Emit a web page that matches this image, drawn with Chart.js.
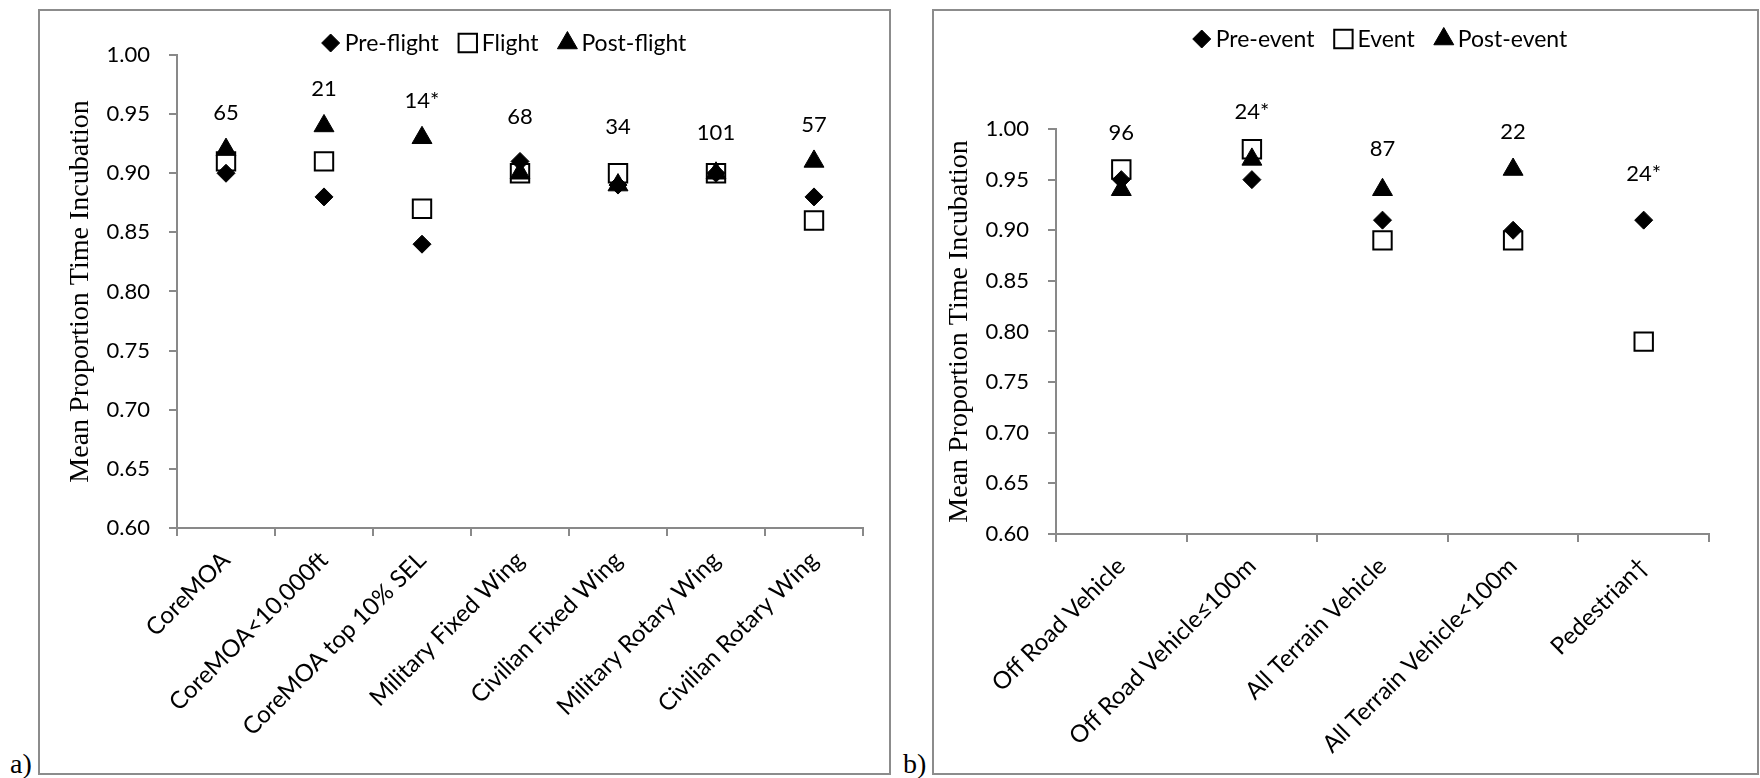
<!DOCTYPE html>
<html>
<head>
<meta charset="utf-8">
<script src="https://cdn.jsdelivr.net/npm/chart.js@4.4.0/dist/chart.umd.min.js"></script>
<style>
  body { margin: 0; background: #fff; width: 1760px; height: 778px; position: relative; overflow: hidden; }
  .frame { position: absolute; border: 2px solid #8c8c8c; box-sizing: border-box; }
  .wrap { position: absolute; }
  .tag { position: absolute; font-family: "Liberation Serif"; font-size: 28px; line-height: 1; }
</style>
</head>
<body>
<div class="frame" style="left:38px;top:9px;width:853px;height:766px"></div>
<div class="frame" style="left:932px;top:9px;width:827px;height:766px"></div>
<div class="wrap" style="left:40px;top:11px;width:849px;height:762px"><canvas id="chartA"></canvas></div>
<div class="wrap" style="left:934px;top:11px;width:823px;height:762px"><canvas id="chartB"></canvas></div>
<div class="tag" style="left:10px;top:750px">a)</div>
<div class="tag" style="left:903px;top:750px">b)</div>

<script>
// a) aircraft
const flightCats = ['CoreMOA', 'CoreMOA<10,000ft', 'CoreMOA top 10% SEL', 'Military Fixed Wing',
  'Civilian Fixed Wing', 'Military Rotary Wing', 'Civilian Rotary Wing'];
const preFlight = [0.90, 0.88, 0.84, 0.91, 0.89, 0.90, 0.88];
const flight = [0.91, 0.91, 0.87, 0.90, 0.90, 0.90, 0.86];
const postFlight = [0.92, 0.94, 0.93, 0.90, 0.89, 0.90, 0.91];
const flightN = ['65', '21', '14*', '68', '34', '101', '57'];
const flightNy = [0.951, 0.971, 0.961, 0.948, 0.939, 0.934, 0.941];

// b) ground events
const eventCats = ['Off Road Vehicle', 'Off Road Vehicle\u2264100m', 'All Terrain Vehicle',
  'All Terrain Vehicle<100m', 'Pedestrian\u2020'];
const preEvent = [0.95, 0.95, 0.91, 0.90, 0.91];
const eventVals = [0.96, 0.98, 0.89, 0.89, 0.79];
const postEvent = [0.94, 0.97, 0.94, 0.96, null];
const eventN = ['96', '24*', '87', '22', '24*'];
const eventNy = [0.9965, 1.017, 0.980, 0.997, 0.956];

const yTicks = [0.60, 0.65, 0.70, 0.75, 0.80, 0.85, 0.90, 0.95, 1.00];

const AXIS = '#898989';
const TXT = '22px Lato';
const LEG = '23px Lato';

// n labels and the legend, drawn on top of the points
const extras = {
  id: 'extras',
  afterDatasetsDraw(chart, args, o) {
    const ctx = chart.ctx;
    const sx = chart.scales.x, sy = chart.scales.y;
    ctx.save();
    ctx.font = TXT;
    ctx.fillStyle = '#000';
    ctx.textAlign = 'center';
    ctx.textBaseline = 'middle';
    o.counts.forEach((c, i) => {
      ctx.fillText(c, sx.getPixelForValue(i), sy.getPixelForValue(o.countY[i]));
    });

    ctx.font = LEG;
    const sets = chart.data.datasets;
    const widths = sets.map(d => ctx.measureText(d.label).width);
    let total = 0;
    widths.forEach(w => total += 18 + 5 + w);
    total += 20 * (sets.length - 1);
    let px = o.legendX - total / 2;
    ctx.textAlign = 'left';
    sets.forEach((d, i) => {
      ctx.fillStyle = d.backgroundColor;
      ctx.strokeStyle = d.borderColor;
      ctx.lineWidth = d.borderWidth;
      Chart.helpers.drawPoint(ctx, {pointStyle: d.pointStyle, radius: d.pointRadius, borderWidth: d.borderWidth, rotation: 0}, px + 9, o.legendY);
      ctx.fillStyle = '#000';
      ctx.fillText(d.label, px + 23, o.legendY + 1);
      px += 18 + 5 + widths[i] + 20;
    });
    ctx.restore();
  }
};

function series(label, data, kind) {
  const s = {label: label, data: data, showLine: false, borderColor: '#000', clip: false};
  if (kind == 'pre') {
    Object.assign(s, {pointStyle: 'rectRot', pointRadius: 9, backgroundColor: '#000', borderWidth: 1, order: 3});
  } else if (kind == 'mid') {
    Object.assign(s, {pointStyle: 'rect', pointRadius: 13, backgroundColor: 'rgba(0,0,0,0)', borderWidth: 2, order: 2});
  } else {
    Object.assign(s, {pointStyle: 'triangle', pointRadius: 11.5, backgroundColor: '#000', borderWidth: 1, order: 1});
  }
  s.pointHoverRadius = s.pointRadius;
  return s;
}

function makeChart(id, cats, sets, counts, countY, box) {
  new Chart(document.getElementById(id), {
    type: 'line',
    data: {labels: cats, datasets: sets},
    plugins: [extras],
    options: {
      responsive: true,
      maintainAspectRatio: false,
      animation: false,
      events: [],
      layout: {padding: {left: 0, right: box.right, top: box.top, bottom: 0}},
      plugins: {
        legend: {display: false},
        tooltip: {enabled: false},
        extras: {counts: counts, countY: countY, legendX: box.legendX, legendY: box.legendY}
      },
      scales: {
        x: {
          type: 'category',
          offset: true,
          grid: {display: true, drawOnChartArea: false, drawTicks: true, tickLength: 8, color: AXIS, lineWidth: 2, offset: true},
          border: {color: AXIS, width: 2},
          ticks: {font: {family: 'Lato', size: 24}, color: '#000', minRotation: 45, maxRotation: 45, autoSkip: false, padding: 10},
          afterFit: s => { s.height = box.xHeight; }
        },
        y: {
          min: 0.6,
          max: 1.0,
          afterBuildTicks: s => { s.ticks = yTicks.map(v => ({value: v})); },
          grid: {display: true, drawOnChartArea: false, drawTicks: true, tickLength: 8, color: AXIS, lineWidth: 2},
          border: {color: AXIS, width: 2},
          ticks: {font: {family: 'Lato', size: 22}, color: '#000', padding: 19, callback: v => Number(v).toFixed(2)},
          title: {display: true, text: 'Mean Proportion Time Incubation', color: '#000',
            font: {family: 'Liberation Serif', size: 28}, padding: {top: box.titlePad, bottom: 0}},
          afterFit: s => { s.width = box.yWidth; }
        }
      }
    }
  });
}

makeChart('chartA', flightCats, [
  series('Pre-flight', preFlight, 'pre'),
  series('Flight', flight, 'mid'),
  series('Post-flight', postFlight, 'post')
], flightN, flightNy, {right: 26, top: 44, xHeight: 245, yWidth: 137, titlePad: 24, legendX: 464, legendY: 32});

makeChart('chartB', eventCats, [
  series('Pre-event', preEvent, 'pre'),
  series('Event', eventVals, 'mid'),
  series('Post-event', postEvent, 'post')
], eventN, eventNy, {right: 48, top: 118, xHeight: 239, yWidth: 122, titlePad: 9, legendX: 446, legendY: 28});
</script>
</body>
</html>
